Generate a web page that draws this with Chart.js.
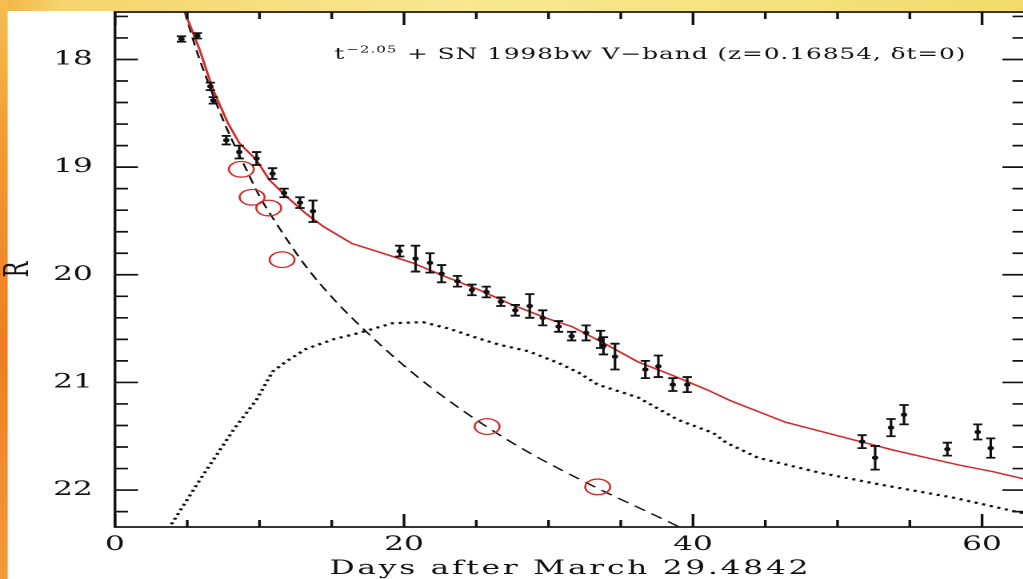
<!DOCTYPE html>
<html><head><meta charset="utf-8">
<script src="https://cdn.jsdelivr.net/npm/chart.js@4/dist/chart.umd.min.js"></script>
<style>
html,body{margin:0;padding:0;background:#fff;overflow:hidden;width:1023px;height:579px;}
#c{display:block;}
</style></head><body>
<canvas id="c" width="650" height="579" style="width:1040px;height:579px"></canvas>
<script>
// ---------------- data ----------------
const xTicks = [0, 20, 40, 60];
const xMinorTicks = [5, 10, 15, 25, 30, 35, 45, 50, 55];
const yTicks = [18, 19, 20, 21, 22];
const yMinorTicks = [17.6, 17.8, 18.2, 18.4, 18.6, 18.8, 19.2, 19.4, 19.6, 19.8, 20.2, 20.4, 20.6, 20.8, 21.2, 21.4, 21.6, 21.8, 22.2];

// observed R-band photometry (days, R mag, 1-sigma error)
const obsT = [4.6, 5.7, 6.6, 6.8, 7.7, 8.6, 9.8, 10.9, 11.7, 12.8, 13.7,
              19.7, 20.8, 21.8, 22.6, 23.7, 24.7, 25.7, 26.7, 27.7, 28.7, 29.6,
              30.7, 31.6, 32.6, 33.6, 33.8, 34.6, 36.7, 37.6, 38.6, 39.6,
              51.7, 52.6, 53.7, 54.6, 57.6, 59.7, 60.6];
const obsR = [17.81, 17.78, 18.25, 18.38, 18.75, 18.86, 18.92, 19.06, 19.24, 19.33, 19.41,
              19.78, 19.85, 19.89, 19.99, 20.06, 20.14, 20.16, 20.25, 20.33, 20.29, 20.40,
              20.48, 20.57, 20.54, 20.60, 20.66, 20.76, 20.88, 20.85, 21.02, 21.02,
              21.55, 21.70, 21.42, 21.30, 21.62, 21.46, 21.61];
const obsErr = [0.025, 0.025, 0.035, 0.03, 0.04, 0.06, 0.06, 0.05, 0.04, 0.05, 0.10,
                0.05, 0.12, 0.09, 0.08, 0.05, 0.05, 0.05, 0.04, 0.05, 0.11, 0.07,
                0.05, 0.04, 0.07, 0.08, 0.08, 0.12, 0.08, 0.10, 0.06, 0.07,
                0.06, 0.11, 0.08, 0.09, 0.06, 0.07, 0.09];

// red open circles (afterglow after host/SN subtraction)
const circT = [8.74, 9.49, 10.64, 11.56, 25.75, 33.4];
const circR = [19.02, 19.28, 19.38, 19.86, 21.41, 21.97];

// red solid: total model
const modelT = [4.6, 4.83, 5.86, 6.78, 7.81, 8.62, 9.77, 10.69, 11.84, 13.2, 14.4, 16.4, 18.3, 20.6, 22.9, 25.2,
                27.5, 30.0, 31.6, 33.9, 36.2, 38.5, 41.0, 42.6, 46.4, 49.3, 51.6, 53.9, 56.2, 58.5, 60.8, 63.0];
const modelR = [17.47, 17.56, 17.91, 18.28, 18.59, 18.78, 18.93, 19.12, 19.27, 19.43, 19.55, 19.71, 19.79, 19.89, 20.02, 20.14,
                20.28, 20.41, 20.48, 20.64, 20.81, 20.93, 21.07, 21.17, 21.37, 21.47, 21.55, 21.63, 21.70, 21.77, 21.83, 21.90];

// dashed: power-law afterglow t^-2.05
const plawT = [4.55, 4.83, 5.6, 6.55, 7.7, 9.08, 10.0, 11.15, 13.2, 15.3, 17.4, 19.7, 22.0, 25.7, 28.9, 33.2, 39.0, 40.0];
const plawR = [17.44, 17.56, 17.90, 18.25, 18.63, 19.02, 19.27, 19.52, 19.92, 20.25, 20.53, 20.81, 21.06, 21.41, 21.67, 21.97, 22.34, 22.41];

// dotted: SN 1998bw V-band template
const snT = [3.4, 3.8, 5.9, 8.2, 9.8, 10.9, 11.8, 13.2, 15.1, 16.9, 19.2, 21.3, 23.1, 24.9, 26.6, 28.6,
             30.7, 32.1, 33.4, 36.2, 39.0, 41.4, 42.3, 44.5, 48.8, 53.0, 58.0, 63.0];
const snR = [22.45, 22.34, 21.90, 21.44, 21.16, 20.90, 20.81, 20.69, 20.60, 20.54, 20.45, 20.44, 20.50, 20.58, 20.65, 20.71,
             20.82, 20.91, 21.02, 21.14, 21.35, 21.47, 21.56, 21.70, 21.84, 21.95, 22.07, 22.22];

const xLabel = 'Days after March 29.4842';
const yLabel = 'R';
const noteMain = 't';
const noteSup = '\u22122.05';
const noteRest = ' + SN 1998bw V\u2212band (z=0.16854, \u03b4t=0)';

// ---------------- styling ----------------
const FONT = '"DejaVu Serif", "Liberation Serif", serif';
const RED = '#d62a2a';
const INK = '#111111';

const pts = (xs, ys) => xs.map((x, i) => ({x: x, y: ys[i]}));

const decor = {
  id: 'decor',
  beforeDraw(chart) {
    const ctx = chart.ctx, W = chart.width, H = chart.height;
    ctx.save();
    ctx.fillStyle = '#ffffff';
    ctx.fillRect(0, 0, W, H);
    const gt = ctx.createLinearGradient(0, 0, W, 0);
    gt.addColorStop(0, '#f3b446');
    gt.addColorStop(0.06, '#f6d56e');
    gt.addColorStop(0.45, '#f8e890');
    gt.addColorStop(1, '#f3dc6c');
    ctx.fillStyle = gt;
    ctx.fillRect(0, 0, W, 11);
    const gl = ctx.createLinearGradient(0, 0, 0, H);
    gl.addColorStop(0, '#f6c050');
    gl.addColorStop(0.25, '#f49a34');
    gl.addColorStop(0.6, '#ef7d22');
    gl.addColorStop(1, '#f59a38');
    ctx.fillStyle = gl;
    ctx.fillRect(0, 0, 4.8, H);
    ctx.restore();
  },
  afterDatasetsDraw(chart) {
    const ctx = chart.ctx, xs = chart.scales.x, ys = chart.scales.y;
    const a = chart.chartArea;
    ctx.save();
    ctx.beginPath();
    ctx.rect(a.left, a.top, a.right - a.left, a.bottom - a.top);
    ctx.clip();
    ctx.strokeStyle = INK;
    for (let i = 0; i < obsT.length; i++) {
      const px = xs.getPixelForValue(obsT[i]);
      const y1 = ys.getPixelForValue(obsR[i] - obsErr[i]);
      const y2 = ys.getPixelForValue(obsR[i] + obsErr[i]);
      ctx.lineWidth = 1.6;
      ctx.beginPath(); ctx.moveTo(px, y1); ctx.lineTo(px, y2); ctx.stroke();
      ctx.lineWidth = 1.8;
      ctx.beginPath();
      ctx.moveTo(px - 2.9, y1); ctx.lineTo(px + 2.9, y1);
      ctx.moveTo(px - 2.9, y2); ctx.lineTo(px + 2.9, y2);
      ctx.stroke();
    }
    ctx.restore();
  },
  afterDraw(chart) {
    const ctx = chart.ctx, xs = chart.scales.x, ys = chart.scales.y;
    const a = chart.chartArea;
    ctx.save();
    ctx.strokeStyle = INK;
    ctx.lineWidth = 1.7;
    ctx.strokeRect(a.left, a.top, a.right - a.left, a.bottom - a.top);
    ctx.beginPath();
    const yTick = (v, len) => {
      const py = ys.getPixelForValue(v);
      ctx.moveTo(a.left, py); ctx.lineTo(a.left + len, py);
      ctx.moveTo(a.right, py); ctx.lineTo(a.right - len, py);
    };
    const xTick = (v, len) => {
      const px = xs.getPixelForValue(v);
      ctx.moveTo(px, a.bottom); ctx.lineTo(px, a.bottom - len);
      ctx.moveTo(px, a.top); ctx.lineTo(px, a.top + len);
    };
    yTicks.forEach(v => yTick(v, 14.4));
    yMinorTicks.forEach(v => yTick(v, 8.1));
    xTicks.forEach(v => xTick(v, 13));
    xMinorTicks.forEach(v => xTick(v, 7));
    ctx.stroke();

    // x-axis title (letter-spaced like the original)
    ctx.fillStyle = INK;
    ctx.textBaseline = 'middle';
    ctx.textAlign = 'left';
    ctx.font = '19.5px ' + FONT;
    ctx.letterSpacing = '0px';
    const natural = ctx.measureText(xLabel).width;
    const xl0 = 206, xl1 = 507;
    ctx.letterSpacing = ((xl1 - xl0 - natural) / xLabel.length).toFixed(2) + 'px';
    ctx.fillText(xLabel, xl0, 569);

    // annotation
    const nx0 = 209, nx1 = 604, ny = 55;
    ctx.letterSpacing = '0px';
    ctx.font = '15.5px ' + FONT;
    const wMain = ctx.measureText(noteMain).width;
    const wRest = ctx.measureText(noteRest).width;
    ctx.font = '9.5px ' + FONT;
    const wSup = ctx.measureText(noteSup).width;
    const nChars = noteMain.length + noteSup.length + noteRest.length;
    const sp = (nx1 - nx0 - wMain - wSup - wRest - 1) / nChars;
    ctx.letterSpacing = sp.toFixed(2) + 'px';
    let x = nx0;
    ctx.font = '15.5px ' + FONT;
    ctx.fillText(noteMain, x, ny);
    x += wMain + sp * noteMain.length + 0.5;
    ctx.font = '9.5px ' + FONT;
    ctx.fillText(noteSup, x, ny - 5);
    x += wSup + sp * noteSup.length + 0.5;
    ctx.font = '15.5px ' + FONT;
    ctx.fillText(noteRest, x, ny);
    ctx.restore();
  }
};

const canvas = document.getElementById('c');
const chart = new Chart(canvas, {
  type: 'scatter',
  data: {
    datasets: [
      {label: 'R-band data', data: pts(obsT, obsR), showLine: false,
       pointRadius: 2.0, pointHoverRadius: 2.0, pointBackgroundColor: INK, pointBorderWidth: 0},
      {label: 'afterglow (host+SN subtracted)', data: pts(circT, circR), showLine: false,
       pointStyle: 'circle', pointRadius: 7.8, pointHoverRadius: 7.8,
       pointBorderColor: RED, pointBorderWidth: 1.3, pointBackgroundColor: 'rgba(0,0,0,0)'},
      {label: 'total model', data: pts(modelT, modelR), showLine: true,
       borderColor: RED, borderWidth: 1.5, pointRadius: 0, tension: 0, clip: 0},
      {label: 't^-2.05', data: pts(plawT, plawR), showLine: true,
       borderColor: INK, borderWidth: 1.3, borderDash: [8, 5], pointRadius: 0,
       cubicInterpolationMode: 'monotone', clip: 0},
      {label: 'SN 1998bw', data: pts(snT, snR), showLine: true,
       borderColor: INK, borderWidth: 2.2, borderDash: [2, 3], borderCapStyle: 'butt',
       pointRadius: 0, tension: 0, clip: 0}
    ]
  },
  options: {
    responsive: false,
    animation: false,
    devicePixelRatio: 2,
    events: [],
    layout: {padding: {top: 12, right: 7.5, left: 0, bottom: 0}},
    plugins: {legend: {display: false}, tooltip: {enabled: false}},
    scales: {
      x: {
        type: 'linear', min: 0, max: 63,
        afterBuildTicks: s => { s.ticks = xTicks.map(v => ({value: v})); },
        afterFit: s => { s.height = 52; s.paddingLeft = 0; s.paddingRight = 0; s.paddingTop = 0; s.paddingBottom = 0; },
        grid: {display: false, drawTicks: false},
        border: {display: false},
        ticks: {font: {family: FONT, size: 19.5}, color: INK, padding: 6.2, maxRotation: 0, autoSkip: false},
        title: {display: false}
      },
      y: {
        type: 'linear', min: 17.559, max: 22.343, reverse: true,
        afterBuildTicks: s => { s.ticks = yTicks.map(v => ({value: v})); },
        afterFit: s => { s.width = 71.875; s.paddingLeft = 0; s.paddingRight = 0; s.paddingTop = 0; s.paddingBottom = 0; },
        grid: {display: false, drawTicks: false},
        border: {display: false},
        ticks: {font: {family: FONT, size: 19.5}, color: INK, padding: 13.8, autoSkip: false},
        title: {display: true, text: yLabel, color: INK, font: {family: FONT, size: 21, lineHeight: 1.15}, padding: 0}
      }
    }
  },
  plugins: [decor]
});
canvas.style.width = '1040px';
canvas.style.height = '579px';
</script>
</body></html>
